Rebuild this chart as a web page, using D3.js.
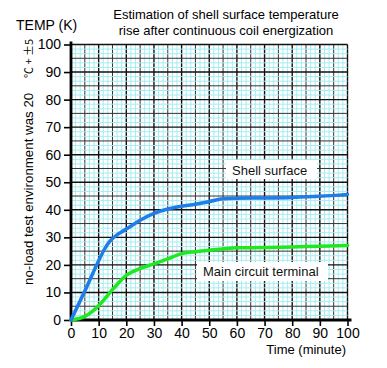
<!DOCTYPE html>
<html>
<head>
<meta charset="utf-8">
<script src="https://cdn.jsdelivr.net/npm/d3@7"></script>
<style>
  body { margin: 0; background: #fff; }
  svg { font-family: "Liberation Sans", Arial, sans-serif; }
</style>
</head>
<body>
<svg width="387" height="368"></svg>
<script>
// Data
var minutes = [0, 5, 10, 12, 14, 16, 18, 20, 25, 30, 35, 40, 45, 50, 55, 60, 70, 80, 90, 100];
var shellTemp = [0, 10.5, 21.5, 25.5, 28.5, 30.4, 31.8, 33, 36.2, 38.7, 40.3, 41.3, 42, 43, 44, 44.2, 44.3, 44.5, 44.9, 45.6];
var termMinutes = [0, 5, 10, 15, 20, 25, 30, 35, 40, 45, 50, 55, 60, 70, 80, 90, 100];
var termTemp = [0, 1.3, 5.2, 11, 16.2, 18.7, 20.4, 22.2, 24.1, 24.8, 25.3, 25.8, 26.2, 26.3, 26.5, 26.8, 27];
var xTicks = [0, 10, 20, 30, 40, 50, 60, 70, 80, 90, 100];
var yTicks = [0, 10, 20, 30, 40, 50, 60, 70, 80, 90, 100];

var svg = d3.select("svg"),
    margin = {top: 44.5, right: 39.5, bottom: 48, left: 71},
    width = +svg.attr("width") - margin.left - margin.right,
    height = +svg.attr("height") - margin.top - margin.bottom,
    g = svg.append("g")
      .attr("transform", "translate(" + margin.left + "," + margin.top + ")");

var x = d3.scaleLinear().domain([0, 100]).range([0, width]),
    y = d3.scaleLinear().domain([0, 100]).range([height, 0]);

// Graph paper grid: cyan every 5/3, black every 5, heavier every 10
var steps = d3.range(0, 61);
var grid = g.append("g").attr("class", "grid");
function gridStyle(sel) {
  sel.attr("stroke", function(k) { return k % 6 === 0 ? "#111" : (k % 3 === 0 ? "#333" : "#a6ecf2"); })
     .attr("stroke-width", function(k) { return k % 6 === 0 ? 1.4 : 1; });
}
// cyan first, black on top
var order = steps.filter(function(k) { return k % 3 !== 0; }).concat(steps.filter(function(k) { return k % 3 === 0; }));
grid.selectAll(".gv").data(order).enter().append("line")
  .attr("x1", function(k) { return x(k * 5 / 3); })
  .attr("x2", function(k) { return x(k * 5 / 3); })
  .attr("y1", 0).attr("y2", height)
  .call(gridStyle);
grid.selectAll(".gh").data(order).enter().append("line")
  .attr("y1", function(k) { return y(k * 5 / 3); })
  .attr("y2", function(k) { return y(k * 5 / 3); })
  .attr("x1", 0).attr("x2", width)
  .call(gridStyle);

// Axes
var xAxis = g.append("g")
  .attr("transform", "translate(0," + height + ")")
  .call(d3.axisBottom(x).tickValues(xTicks).tickSize(6).tickPadding(2));
var yAxis = g.append("g")
  .call(d3.axisLeft(y).tickValues(yTicks).tickSize(7).tickPadding(3));
[xAxis, yAxis].forEach(function(a) {
  a.select(".domain").remove();
  a.selectAll(".tick line").attr("stroke", "#000").attr("stroke-width", 1.6);
  a.selectAll(".tick text").attr("fill", "#000").style("font-size", "14px")
    .style("font-family", "'Liberation Sans', Arial, sans-serif");
});
xAxis.selectAll(".tick line").attr("y1", -1);
g.append("line").attr("x1", 0).attr("x2", width + 4)
  .attr("y1", height).attr("y2", height)
  .attr("stroke", "#000").attr("stroke-width", 2.8);
g.append("line").attr("x1", 0).attr("x2", 0)
  .attr("y1", -3).attr("y2", height + 1)
  .attr("stroke", "#000").attr("stroke-width", 2.8);

// Lines
var line = d3.line()
  .x(function(d) { return x(d[0]); })
  .y(function(d) { return y(d[1]); })
  .curve(d3.curveMonotoneX);

g.append("path")
  .datum(termMinutes.map(function(m, i) { return [m, termTemp[i]]; }))
  .attr("fill", "none").attr("stroke", "#1ee81e").attr("stroke-width", 3.5)
  .attr("stroke-linecap", "round")
  .attr("d", line);
g.append("path")
  .datum(minutes.map(function(m, i) { return [m, shellTemp[i]]; }))
  .attr("fill", "none").attr("stroke", "#1e7de8").attr("stroke-width", 3.5)
  .attr("stroke-linecap", "round")
  .attr("d", line);

// Series labels in white boxes
function boxLabel(text, tx, ty, bx, by, bw, bh) {
  g.append("rect").attr("x", bx).attr("y", by).attr("width", bw).attr("height", bh)
    .attr("fill", "#fff");
  g.append("text").attr("x", tx).attr("y", ty).text(text)
    .style("font-size", "13px").attr("fill", "#111");
}
boxLabel("Shell surface", 232 - margin.left, 175 - margin.top, 226 - margin.left, 160 - margin.top, 91, 19);
boxLabel("Main circuit terminal", 203 - margin.left, 276 - margin.top, 197 - margin.left, 262 - margin.top, 131, 19);

// Titles
svg.append("text").attr("x", 226).attr("y", 19).attr("text-anchor", "middle")
  .style("font-size", "13px").text("Estimation of shell surface temperature");
svg.append("text").attr("x", 226).attr("y", 35).attr("text-anchor", "middle")
  .style("font-size", "13px").text("rise after continuous coil energization");
svg.append("text").attr("x", 16).attr("y", 30)
  .style("font-size", "14px").text("TEMP (K)");
svg.append("text").attr("x", 346).attr("y", 354).attr("text-anchor", "end")
  .style("font-size", "13px").text("Time (minute)");

// Rotated y label
svg.append("text")
  .attr("transform", "translate(33,285) rotate(-90)")
  .style("font-size", "13.3px")
  .text("no-load test environment was 20");
svg.append("text")
  .attr("transform", "translate(33,78) rotate(-90)")
  .style("font-size", "11px")
  .style("font-family", "'Noto Sans CJK SC', 'DejaVu Sans', sans-serif")
  .text("\u2103 + \u00b15");
</script>
</body>
</html>
